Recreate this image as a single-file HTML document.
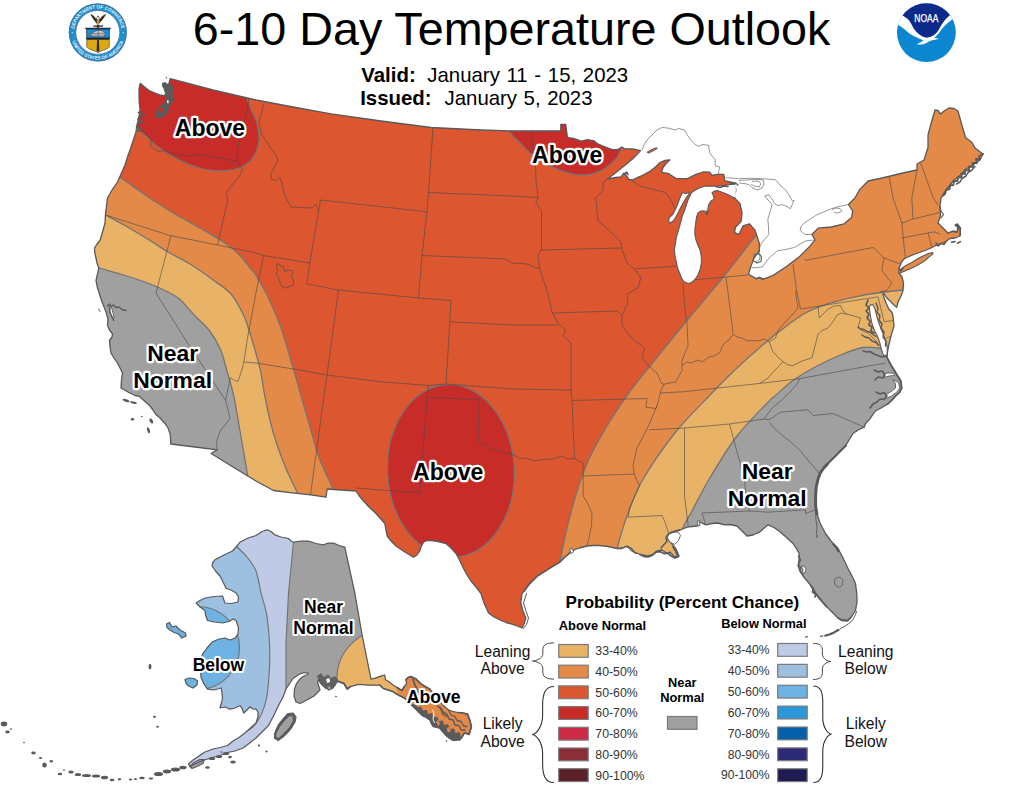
<!DOCTYPE html>
<html><head><meta charset="utf-8"><title>6-10 Day Temperature Outlook</title>
<style>html,body{margin:0;padding:0;background:#fff;}body{width:1024px;height:791px;overflow:hidden;font-family:"Liberation Sans",sans-serif;}svg{display:block}text{font-family:"Liberation Sans",sans-serif;}</style>
</head><body>
<svg width="1024" height="791" viewBox="0 0 1024 791">
<rect width="1024" height="791" fill="#fff"/>
<defs>
<clipPath id="cC"><path d="M140.2,83.3 L144.0,86.5 L149.0,90.5 L155.0,93.0 L160.3,95.0 L164.0,96.0 L166.5,93.0 L168.0,88.0 L169.0,83.0 L170.2,78.7 L213.0,90.0 L256.0,100.0 L293.0,107.0 L331.0,113.8 L381.0,121.0 L431.0,127.5 L481.0,130.0 L512.0,131.0 L560.8,131.0 L560.8,124.5 L565.8,124.5 L567.3,136.5 L568.0,137.7 L573.4,138.4 L581.2,141.2 L587.5,139.7 L593.8,140.8 L597.7,143.9 L603.1,146.2 L609.4,148.6 L612.5,149.7 L617.2,149.7 L621.9,147.0 L624.2,148.6 L632.8,149.0 L640.6,150.6 L632.8,158.8 L623.4,166.6 L612.5,175.2 L607.0,179.2 L615.6,177.5 L621.0,176.8 L624.0,173.0 L626.5,176.0 L629.0,179.5 L632.8,179.8 L640.6,176.2 L650.0,171.2 L656.0,166.5 L660.0,162.5 L665.0,160.3 L670.0,159.8 L666.5,163.0 L663.0,167.5 L661.5,172.4 L668.0,173.3 L676.5,178.7 L687.3,178.7 L695.9,174.4 L703.0,172.0 L709.8,172.2 L712.0,175.5 L717.4,174.4 L723.8,174.4 L724.9,180.8 L730.0,182.0 L734.5,183.0 L734.5,198.0 L739.9,203.4 L742.1,213.0 L741.0,221.6 L735.6,227.0 L734.5,232.4 L738.8,234.5 L743.1,225.9 L749.6,223.8 L755.0,230.2 L759.3,243.1 L759.3,251.7 L757.1,253.9 L754.0,258.0 L752.8,261.4 L750.7,266.8 L748.5,274.3 L756.0,278.6 L759.3,277.5 L763.5,279.2 L773.2,275.4 L786.1,266.8 L799.0,257.1 L809.7,246.4 L815.1,239.9 L811.9,234.5 L818.3,228.1 L831.2,227.0 L844.1,223.8 L851.6,217.4 L852.7,210.9 L848.4,204.5 L854.9,198.0 L859.8,189.4 L868.0,181.0 L880.0,178.5 L890.5,176.0 L905.0,172.5 L917.0,170.0 L917.0,164.0 L924.0,160.0 L928.0,147.5 L928.0,135.0 L931.5,122.0 L935.0,110.0 L938.0,110.5 L940.5,114.0 L944.0,111.0 L949.0,108.0 L954.0,108.5 L958.0,111.0 L961.0,122.0 L965.5,137.5 L972.0,142.5 L975.0,148.0 L983.0,154.0 L980.0,160.0 L973.0,165.0 L966.0,169.0 L960.5,175.0 L954.0,180.0 L948.0,187.5 L944.0,193.0 L941.0,198.0 L940.0,206.0 L940.5,215.5 L938.0,223.0 L943.0,228.0 L948.0,233.0 L953.0,231.0 L957.0,232.0 L958.0,227.0 L955.0,225.0 L957.0,224.0 L960.0,228.0 L960.0,236.0 L955.0,238.0 L950.0,238.5 L945.0,242.0 L940.0,244.0 L935.5,245.5 L931.0,248.0 L925.0,250.5 L915.0,254.0 L908.0,257.0 L904.0,259.0 L901.5,262.0 L900.5,265.0 L899.0,268.0 L899.0,273.0 L902.0,277.0 L903.5,283.0 L903.0,290.6 L901.0,296.0 L898.4,301.2 L896.6,307.4 L893.5,304.5 L890.0,301.0 L886.5,297.5 L883.5,293.0 L883.0,294.5 L884.5,299.0 L886.5,304.0 L888.5,308.5 L892.2,312.7 L893.1,317.2 L894.0,326.0 L891.3,334.9 L888.7,345.5 L887.0,355.0 L887.5,358.0 L891.3,365.0 L896.6,373.8 L901.0,380.9 L902.0,388.0 L900.0,392.0 L896.6,395.0 L892.0,400.0 L887.8,403.9 L881.0,408.0 L875.4,411.0 L869.2,419.8 L865.5,423.5 L864.2,427.2 L858.0,430.0 L853.0,433.5 L849.0,440.0 L845.5,446.0 L840.0,451.0 L835.5,456.0 L829.0,462.0 L823.0,468.5 L820.0,473.0 L818.0,478.5 L816.0,487.0 L815.5,496.0 L815.5,505.0 L816.8,513.5 L820.0,523.0 L825.5,533.5 L831.0,541.0 L838.0,548.5 L843.0,558.0 L848.0,568.5 L852.0,576.0 L855.5,583.5 L856.8,593.5 L857.0,602.0 L855.5,610.5 L852.0,616.0 L848.0,620.5 L843.0,620.0 L838.0,618.0 L831.0,611.0 L825.5,605.5 L819.0,598.0 L815.0,593.0 L813.0,588.5 L808.0,582.0 L803.0,576.0 L800.0,571.0 L798.0,566.0 L799.0,560.0 L799.2,553.5 L796.0,548.0 L793.0,543.5 L786.0,537.0 L780.5,532.2 L774.0,527.5 L768.0,524.8 L763.0,529.0 L759.5,532.2 L753.0,535.0 L747.0,536.0 L742.0,531.0 L737.0,526.0 L730.0,524.5 L724.5,524.8 L718.0,523.0 L712.0,523.5 L705.8,524.8 L700.0,522.0 L697.0,526.0 L692.0,526.5 L687.0,527.2 L680.0,530.0 L675.0,531.0 L671.0,534.0 L668.0,539.0 L672.0,544.0 L676.0,549.0 L679.0,556.0 L674.5,557.0 L670.0,552.0 L667.0,553.5 L662.0,550.0 L657.0,551.0 L652.0,555.0 L647.0,556.0 L640.0,554.5 L634.5,552.2 L631.0,548.0 L627.0,546.0 L622.0,548.0 L617.0,548.5 L608.0,546.5 L599.5,545.5 L593.0,545.5 L587.0,546.0 L579.0,548.0 L572.0,551.0 L566.0,556.0 L559.5,562.2 L548.0,569.0 L537.0,576.0 L529.0,584.0 L522.0,593.5 L520.8,603.0 L523.0,611.0 L525.8,618.0 L524.0,624.0 L522.0,628.0 L517.0,626.0 L512.0,624.2 L506.0,622.5 L501.0,620.5 L494.0,617.0 L488.5,613.0 L484.0,603.0 L481.0,593.5 L476.0,587.0 L471.0,581.0 L467.0,575.0 L463.5,568.5 L460.0,561.0 L456.0,553.5 L451.0,548.0 L446.0,543.5 L438.0,541.5 L431.0,540.5 L427.0,540.5 L423.5,542.2 L421.0,547.0 L419.8,551.0 L417.0,555.0 L413.5,557.2 L404.0,551.5 L396.0,546.0 L391.0,541.0 L387.2,536.0 L386.0,530.0 L384.8,523.5 L380.0,518.0 L376.0,513.5 L369.0,507.0 L363.5,501.0 L359.0,495.5 L356.0,491.0 L341.0,490.0 L327.2,489.0 L326.0,497.2 L310.5,494.8 L290.0,492.6 L273.5,490.5 L256.0,481.0 L233.0,467.0 L211.2,453.5 L214.0,451.5 L217.5,449.8 L195.0,447.0 L170.8,444.0 L170.5,438.0 L170.0,433.5 L168.0,428.0 L165.0,423.5 L160.0,418.0 L156.2,414.8 L153.0,410.0 L150.0,406.0 L144.0,400.5 L138.8,396.0 L135.0,395.5 L128.0,392.0 L121.0,388.0 L121.5,380.0 L122.5,373.0 L120.0,368.0 L117.5,363.0 L114.0,358.0 L111.0,353.0 L110.0,347.0 L109.5,340.5 L112.0,337.0 L112.5,334.0 L109.5,330.0 L107.5,325.5 L108.0,319.0 L106.0,312.0 L102.5,303.0 L101.0,299.0 L100.0,295.5 L97.5,288.0 L96.0,280.5 L97.5,274.0 L98.8,268.0 L97.0,263.0 L96.0,258.0 L94.8,253.0 L94.5,248.0 L97.0,244.0 L100.0,240.5 L102.5,232.0 L105.0,223.0 L105.5,214.0 L106.5,206.0 L107.5,198.0 L112.0,190.0 L117.5,182.0 L121.5,173.0 L125.0,165.0 L127.5,157.0 L130.0,150.0 L133.0,141.0 L136.0,132.0 L136.5,128.0 L137.0,125.0 L138.8,118.0 L140.0,110.0 L139.2,102.0 L139.0,95.0 L139.0,89.0Z"/></clipPath>
<clipPath id="cA"><path d="M212.0,566.0 L213.0,562.0 L215.0,559.8 L224.0,555.0 L232.5,551.0 L236.5,546.5 L240.0,542.2 L248.0,538.0 L256.0,535.5 L262.0,531.5 L267.2,529.8 L271.0,531.5 L274.8,534.8 L281.0,537.0 L288.5,538.5 L291.0,541.0 L293.5,542.2 L301.0,541.0 L308.5,541.0 L316.0,543.5 L323.5,544.8 L328.0,543.0 L333.5,543.0 L339.0,545.5 L344.8,547.2 L354.8,593.0 L362.2,635.5 L371.0,679.2 L375.3,678.1 L381.6,675.8 L384.7,675.0 L385.5,679.7 L389.4,682.0 L393.0,685.0 L397.2,687.5 L401.9,690.6 L404.0,687.0 L406.6,683.6 L405.8,679.7 L408.0,677.5 L411.2,676.6 L415.9,678.9 L420.6,683.6 L425.0,686.5 L430.0,689.1 L433.1,693.0 L438.0,699.0 L442.5,704.7 L448.8,710.2 L453.0,711.5 L458.1,712.5 L463.0,713.0 L467.5,714.1 L469.8,720.3 L471.4,726.6 L469.1,734.4 L464.4,732.8 L462.0,737.0 L459.7,739.8 L453.4,740.6 L449.0,738.0 L445.6,735.2 L442.0,731.0 L439.4,728.1 L433.1,726.6 L431.0,723.0 L430.0,720.3 L426.0,717.5 L422.2,715.6 L418.5,712.0 L415.9,709.4 L411.2,704.7 L405.0,698.4 L398.8,695.3 L392.5,691.4 L383.1,688.3 L380.0,685.2 L369.1,685.2 L358.1,684.4 L350.3,686.7 L347.2,689.0 L344.1,683.6 L337.8,681.2 L336.0,683.0 L333.0,688.0 L329.0,690.0 L325.0,687.0 L321.0,683.5 L318.5,680.0 L317.5,682.0 L320.0,690.0 L314.0,696.0 L307.0,700.0 L300.0,703.5 L296.0,702.0 L294.0,696.0 L294.5,689.0 L296.5,683.5 L299.5,679.5 L303.0,676.5 L307.5,674.5 L308.5,673.0 L303.0,672.8 L298.0,675.0 L293.5,678.0 L290.0,683.0 L286.0,689.0 L283.0,697.0 L278.5,705.5 L274.0,715.0 L268.5,725.5 L262.0,732.0 L256.0,738.0 L249.0,743.5 L243.0,748.0 L235.0,751.0 L227.5,752.5 L220.0,755.5 L212.5,757.5 L203.0,760.5 L196.0,763.5 L190.0,766.5 L188.5,764.0 L193.0,760.0 L199.0,756.0 L205.0,752.0 L213.0,749.0 L220.0,747.5 L227.5,745.5 L233.0,741.0 L239.0,737.5 L245.0,733.0 L251.0,727.5 L256.0,723.0 L258.0,717.0 L258.0,712.0 L256.0,709.2 L253.0,709.0 L250.0,706.8 L247.0,710.0 L243.8,713.0 L242.0,708.5 L240.0,705.5 L235.0,708.0 L230.0,709.2 L225.0,707.0 L220.0,708.0 L221.5,703.0 L222.5,698.0 L222.0,693.0 L221.2,688.0 L214.0,690.0 L207.5,689.2 L204.0,684.0 L201.2,678.0 L200.5,671.0 L200.0,665.0 L201.0,659.5 L202.5,654.2 L207.0,648.0 L212.5,641.8 L219.0,639.0 L225.0,638.0 L230.0,640.0 L235.0,638.0 L238.0,634.0 L238.5,628.0 L236.2,620.5 L233.0,619.0 L229.0,621.5 L222.5,623.0 L214.0,622.0 L207.5,620.5 L205.5,615.0 L205.0,610.5 L200.0,607.0 L196.2,603.0 L200.0,600.5 L205.0,598.0 L214.0,596.5 L222.5,596.0 L223.5,599.0 L225.0,603.0 L231.0,603.5 L238.0,602.0 L238.5,597.0 L236.0,593.0 L231.0,590.0 L226.2,588.5 L223.0,582.0 L220.0,576.0 L215.5,571.0Z M166.5,624.0 L169.5,622.5 L172.0,627.0 L176.0,626.0 L180.0,630.0 L185.5,633.0 L186.0,636.0 L182.0,638.0 L178.5,634.0 L174.0,632.5 L170.0,630.0 L167.0,627.5Z M185.0,679.5 L189.0,678.0 L194.0,678.5 L197.5,681.0 L197.0,685.0 L193.0,688.0 L188.5,686.0 L186.0,683.0Z M276.0,730.0 L279.0,724.0 L284.0,718.0 L288.0,713.5 L293.0,713.0 L296.0,717.0 L295.0,722.0 L292.0,727.0 L288.0,732.0 L283.0,737.0 L278.0,740.5 L274.5,738.0 L275.0,734.0Z M190.0,766.5 L194.0,762.5 L200.0,759.5 L204.0,759.5 L203.0,763.5 L197.0,766.5 L192.0,768.5Z"/></clipPath>
</defs>
<g clip-path="url(#cC)">
<rect x="80" y="60" width="920" height="580" fill="#DC562F"/>
<path d="M95.0,160.0 C99.2,162.9 113.2,172.5 120.0,177.2 C126.8,181.9 130.4,184.5 135.6,188.1 C140.8,191.7 144.7,194.7 151.2,199.0 C157.8,203.3 166.9,209.2 175.0,214.0 C183.1,218.8 191.7,223.2 200.0,228.0 C208.3,232.8 218.3,238.4 225.0,243.0 C231.7,247.6 235.8,251.3 240.0,255.5 C244.2,259.7 247.3,264.7 250.0,268.0 C252.7,271.3 252.9,270.5 256.0,275.5 C259.1,280.5 264.3,289.2 268.5,298.0 C272.7,306.8 277.2,317.6 281.0,328.0 C284.8,338.4 287.7,349.2 291.0,360.5 C294.3,371.8 297.9,384.6 301.0,395.5 C304.1,406.4 306.8,415.9 309.8,426.0 C312.7,436.1 314.8,445.8 318.5,456.0 C322.2,466.2 328.7,479.1 332.2,487.2 C335.8,495.4 338.7,502.0 340.0,505.0 L340.0,545.0 L40,545.0 L40,150.0 L95.0,150.0Z" fill="#E38A48"/>
<path d="M85.0,204.0 C88.4,205.8 98.8,211.4 105.5,215.0 C112.2,218.6 117.6,221.2 125.0,225.5 C132.4,229.8 142.9,236.1 150.0,240.5 C157.1,244.9 160.8,247.8 167.5,251.8 C174.2,255.7 182.5,259.4 190.0,264.0 C197.5,268.6 205.7,274.5 212.5,279.5 C219.3,284.5 225.8,288.1 231.0,294.0 C236.2,299.9 240.2,308.2 243.5,315.0 C246.8,321.8 248.4,328.6 250.5,335.0 C252.6,341.4 254.2,347.2 256.0,353.5 C257.8,359.8 259.5,365.9 261.0,373.0 C262.5,380.1 262.7,385.9 264.8,396.0 C266.8,406.1 270.0,421.4 273.5,433.5 C277.0,445.6 282.0,458.7 286.0,468.5 C290.0,478.3 294.4,486.2 297.2,492.2 C300.1,498.3 302.0,502.9 303.0,505.0 L303.0,545.0 L40,545.0 L40,194.0 L85.0,194.0Z" fill="#E8B367"/>
<path d="M70.0,259.0 C74.6,260.4 88.3,264.8 97.5,267.5 C106.7,270.2 116.2,272.8 125.0,275.5 C133.8,278.2 142.8,281.2 150.0,284.0 C157.2,286.8 163.0,289.4 168.0,292.0 C173.0,294.6 175.5,295.5 180.0,299.5 C184.5,303.5 190.2,310.9 195.0,316.0 C199.8,321.1 204.8,324.4 209.0,330.0 C213.2,335.6 217.4,342.3 220.5,349.5 C223.6,356.7 225.3,365.2 227.5,373.0 C229.7,380.8 231.7,386.3 233.8,396.0 C235.8,405.7 237.7,417.9 240.0,431.0 C242.3,444.1 245.7,464.1 247.5,474.8 C249.3,485.4 250.4,491.6 251.0,495.0 L251.0,535.0 L40,535.0 L40,249.0 L70.0,249.0Z" fill="#A0A0A0"/>
<path d="M790.0,190.0 C787.5,193.7 780.7,204.4 775.0,212.0 C769.3,219.6 764.2,224.9 755.8,235.5 C747.3,246.1 736.0,261.3 724.5,275.5 C713.0,289.7 699.5,305.3 687.0,320.5 C674.5,335.7 659.5,354.2 649.5,366.8 C639.5,379.2 634.1,385.6 627.0,395.5 C619.9,405.4 613.7,414.7 607.0,426.0 C600.3,437.3 592.8,449.8 587.0,463.5 C581.2,477.2 576.6,491.8 572.0,508.5 C567.4,525.2 562.3,549.1 559.5,563.5 C556.7,577.9 555.8,589.8 555.0,595.0 L555.0,700 L1010,700 L1010,60.0 L790.0,60.0Z" fill="#E38A48"/>
<path d="M935.0,288.0 C929.7,288.3 912.1,289.2 903.0,290.0 C893.9,290.8 888.4,291.4 880.5,292.5 C872.6,293.6 863.8,295.0 855.5,296.8 C847.2,298.5 838.8,300.3 830.5,303.0 C822.2,305.7 813.8,308.4 805.5,313.0 C797.2,317.6 786.8,325.9 780.5,330.5 C774.2,335.1 775.2,334.2 768.0,340.5 C760.8,346.8 746.8,358.8 737.0,368.0 C727.2,377.2 719.9,384.6 709.5,395.5 C699.1,406.4 685.8,419.2 674.5,433.5 C663.2,447.8 649.9,467.2 642.0,481.0 C634.1,494.8 631.2,504.8 627.0,516.0 C622.8,527.2 619.7,538.7 617.0,548.5 C614.3,558.3 612.0,570.6 611.0,575.0 L611.0,700 L1010,700 L1010,288.0 L935.0,288.0Z" fill="#E8B367"/>
<path d="M915.0,354.0 C910.8,353.3 896.2,351.0 890.0,350.0 C883.8,349.0 882.5,348.4 878.0,348.0 C873.5,347.6 868.8,346.5 863.0,347.5 C857.2,348.5 850.5,351.0 843.0,354.0 C835.5,357.0 826.3,361.1 818.0,365.5 C809.7,369.9 800.1,375.5 793.0,380.5 C785.9,385.5 779.7,391.9 775.5,395.5 C771.3,399.1 774.4,395.5 768.0,402.2 C761.6,409.0 746.8,423.3 737.0,436.0 C727.2,448.7 717.0,466.0 709.5,478.5 C702.0,491.0 696.4,502.9 692.0,511.0 C687.6,519.1 686.1,521.1 683.2,527.2 C680.4,533.4 676.4,544.5 675.0,548.0 L675.0,700 L1010,700 L1010,354.0 L915.0,354.0Z" fill="#A0A0A0"/>
<path d="M110.0,110.0 C113.0,111.7 123.2,116.8 128.0,120.0 C132.8,123.2 135.7,126.7 138.8,129.5 C141.8,132.3 143.7,134.0 146.6,136.6 C149.5,139.2 152.6,142.5 156.0,145.2 C159.4,147.9 162.5,150.3 166.9,153.0 C171.3,155.7 177.3,159.2 182.5,161.6 C187.7,164.0 192.9,166.0 198.1,167.5 C203.3,169.0 209.1,170.1 213.8,170.6 C218.4,171.1 222.1,171.0 226.2,170.6 C230.4,170.2 234.8,169.6 238.8,168.1 C242.7,166.6 246.7,164.5 249.7,161.6 C252.7,158.7 255.1,154.5 256.7,150.6 C258.3,146.7 259.1,142.8 259.1,138.1 C259.1,133.4 258.0,127.2 256.7,122.5 C255.4,117.8 252.9,113.9 251.2,110.0 C249.6,106.1 248.4,103.2 247.0,99.0 C245.6,94.8 243.7,87.3 243.0,85.0 L243,60 L100,60Z" fill="#C82C28"/>
<path d="M503.0,122.0 C504.1,123.7 506.5,128.7 509.4,132.2 C512.3,135.7 516.7,139.5 520.3,143.1 C523.9,146.7 527.8,151.0 531.2,154.0 C534.7,157.0 537.6,158.9 541.0,161.0 C544.4,163.1 548.0,164.9 551.6,166.6 C555.2,168.3 558.6,169.9 562.5,171.2 C566.4,172.6 570.8,173.8 575.0,174.4 C579.2,175.0 583.3,175.2 587.5,174.7 C591.7,174.2 596.4,172.9 600.0,171.2 C603.6,169.6 606.5,167.3 609.4,165.0 C612.3,162.7 615.1,160.2 617.2,157.2 C619.3,154.2 620.6,150.5 621.9,147.0 C623.2,143.5 624.5,137.8 625.0,136.0 L625,100 L503,100Z" fill="#C82C28"/>
<ellipse cx="450.9" cy="470.7" rx="63.3" ry="86.3" transform="rotate(-2.8 450.9 470.7)" fill="#C82C28"/>
<path d="M95.0,160.0 C99.2,162.9 113.2,172.5 120.0,177.2 C126.8,181.9 130.4,184.5 135.6,188.1 C140.8,191.7 144.7,194.7 151.2,199.0 C157.8,203.3 166.9,209.2 175.0,214.0 C183.1,218.8 191.7,223.2 200.0,228.0 C208.3,232.8 218.3,238.4 225.0,243.0 C231.7,247.6 235.8,251.3 240.0,255.5 C244.2,259.7 247.3,264.7 250.0,268.0 C252.7,271.3 252.9,270.5 256.0,275.5 C259.1,280.5 264.3,289.2 268.5,298.0 C272.7,306.8 277.2,317.6 281.0,328.0 C284.8,338.4 287.7,349.2 291.0,360.5 C294.3,371.8 297.9,384.6 301.0,395.5 C304.1,406.4 306.8,415.9 309.8,426.0 C312.7,436.1 314.8,445.8 318.5,456.0 C322.2,466.2 328.7,479.1 332.2,487.2 C335.8,495.4 338.7,502.0 340.0,505.0" fill="none" stroke="#747474" stroke-width="1.3"/>
<path d="M85.0,204.0 C88.4,205.8 98.8,211.4 105.5,215.0 C112.2,218.6 117.6,221.2 125.0,225.5 C132.4,229.8 142.9,236.1 150.0,240.5 C157.1,244.9 160.8,247.8 167.5,251.8 C174.2,255.7 182.5,259.4 190.0,264.0 C197.5,268.6 205.7,274.5 212.5,279.5 C219.3,284.5 225.8,288.1 231.0,294.0 C236.2,299.9 240.2,308.2 243.5,315.0 C246.8,321.8 248.4,328.6 250.5,335.0 C252.6,341.4 254.2,347.2 256.0,353.5 C257.8,359.8 259.5,365.9 261.0,373.0 C262.5,380.1 262.7,385.9 264.8,396.0 C266.8,406.1 270.0,421.4 273.5,433.5 C277.0,445.6 282.0,458.7 286.0,468.5 C290.0,478.3 294.4,486.2 297.2,492.2 C300.1,498.3 302.0,502.9 303.0,505.0" fill="none" stroke="#747474" stroke-width="1.3"/>
<path d="M70.0,259.0 C74.6,260.4 88.3,264.8 97.5,267.5 C106.7,270.2 116.2,272.8 125.0,275.5 C133.8,278.2 142.8,281.2 150.0,284.0 C157.2,286.8 163.0,289.4 168.0,292.0 C173.0,294.6 175.5,295.5 180.0,299.5 C184.5,303.5 190.2,310.9 195.0,316.0 C199.8,321.1 204.8,324.4 209.0,330.0 C213.2,335.6 217.4,342.3 220.5,349.5 C223.6,356.7 225.3,365.2 227.5,373.0 C229.7,380.8 231.7,386.3 233.8,396.0 C235.8,405.7 237.7,417.9 240.0,431.0 C242.3,444.1 245.7,464.1 247.5,474.8 C249.3,485.4 250.4,491.6 251.0,495.0" fill="none" stroke="#747474" stroke-width="1.3"/>
<path d="M790.0,190.0 C787.5,193.7 780.7,204.4 775.0,212.0 C769.3,219.6 764.2,224.9 755.8,235.5 C747.3,246.1 736.0,261.3 724.5,275.5 C713.0,289.7 699.5,305.3 687.0,320.5 C674.5,335.7 659.5,354.2 649.5,366.8 C639.5,379.2 634.1,385.6 627.0,395.5 C619.9,405.4 613.7,414.7 607.0,426.0 C600.3,437.3 592.8,449.8 587.0,463.5 C581.2,477.2 576.6,491.8 572.0,508.5 C567.4,525.2 562.3,549.1 559.5,563.5 C556.7,577.9 555.8,589.8 555.0,595.0" fill="none" stroke="#747474" stroke-width="1.3"/>
<path d="M935.0,288.0 C929.7,288.3 912.1,289.2 903.0,290.0 C893.9,290.8 888.4,291.4 880.5,292.5 C872.6,293.6 863.8,295.0 855.5,296.8 C847.2,298.5 838.8,300.3 830.5,303.0 C822.2,305.7 813.8,308.4 805.5,313.0 C797.2,317.6 786.8,325.9 780.5,330.5 C774.2,335.1 775.2,334.2 768.0,340.5 C760.8,346.8 746.8,358.8 737.0,368.0 C727.2,377.2 719.9,384.6 709.5,395.5 C699.1,406.4 685.8,419.2 674.5,433.5 C663.2,447.8 649.9,467.2 642.0,481.0 C634.1,494.8 631.2,504.8 627.0,516.0 C622.8,527.2 619.7,538.7 617.0,548.5 C614.3,558.3 612.0,570.6 611.0,575.0" fill="none" stroke="#747474" stroke-width="1.3"/>
<path d="M915.0,354.0 C910.8,353.3 896.2,351.0 890.0,350.0 C883.8,349.0 882.5,348.4 878.0,348.0 C873.5,347.6 868.8,346.5 863.0,347.5 C857.2,348.5 850.5,351.0 843.0,354.0 C835.5,357.0 826.3,361.1 818.0,365.5 C809.7,369.9 800.1,375.5 793.0,380.5 C785.9,385.5 779.7,391.9 775.5,395.5 C771.3,399.1 774.4,395.5 768.0,402.2 C761.6,409.0 746.8,423.3 737.0,436.0 C727.2,448.7 717.0,466.0 709.5,478.5 C702.0,491.0 696.4,502.9 692.0,511.0 C687.6,519.1 686.1,521.1 683.2,527.2 C680.4,533.4 676.4,544.5 675.0,548.0" fill="none" stroke="#747474" stroke-width="1.3"/>
<path d="M110.0,110.0 C113.0,111.7 123.2,116.8 128.0,120.0 C132.8,123.2 135.7,126.7 138.8,129.5 C141.8,132.3 143.7,134.0 146.6,136.6 C149.5,139.2 152.6,142.5 156.0,145.2 C159.4,147.9 162.5,150.3 166.9,153.0 C171.3,155.7 177.3,159.2 182.5,161.6 C187.7,164.0 192.9,166.0 198.1,167.5 C203.3,169.0 209.1,170.1 213.8,170.6 C218.4,171.1 222.1,171.0 226.2,170.6 C230.4,170.2 234.8,169.6 238.8,168.1 C242.7,166.6 246.7,164.5 249.7,161.6 C252.7,158.7 255.1,154.5 256.7,150.6 C258.3,146.7 259.1,142.8 259.1,138.1 C259.1,133.4 258.0,127.2 256.7,122.5 C255.4,117.8 252.9,113.9 251.2,110.0 C249.6,106.1 248.4,103.2 247.0,99.0 C245.6,94.8 243.7,87.3 243.0,85.0" fill="none" stroke="#747474" stroke-width="1.3"/>
<path d="M503.0,122.0 C504.1,123.7 506.5,128.7 509.4,132.2 C512.3,135.7 516.7,139.5 520.3,143.1 C523.9,146.7 527.8,151.0 531.2,154.0 C534.7,157.0 537.6,158.9 541.0,161.0 C544.4,163.1 548.0,164.9 551.6,166.6 C555.2,168.3 558.6,169.9 562.5,171.2 C566.4,172.6 570.8,173.8 575.0,174.4 C579.2,175.0 583.3,175.2 587.5,174.7 C591.7,174.2 596.4,172.9 600.0,171.2 C603.6,169.6 606.5,167.3 609.4,165.0 C612.3,162.7 615.1,160.2 617.2,157.2 C619.3,154.2 620.6,150.5 621.9,147.0 C623.2,143.5 624.5,137.8 625.0,136.0" fill="none" stroke="#747474" stroke-width="1.3"/>
<ellipse cx="450.9" cy="470.7" rx="63.3" ry="86.3" transform="rotate(-2.8 450.9 470.7)" fill="none" stroke="#747474" stroke-width="1.3"/>
<g fill="none" stroke="#4a4a4a" stroke-opacity="0.72" stroke-width="0.85" stroke-linejoin="round">
<path d="M137.0,130.0 L143.4,131.9 L151.2,139.7 L150.5,146.7 L158.3,151.4 L165.3,150.6 L174.7,154.5 L187.2,156.1 L198.1,154.5 L213.8,156.9 L237.2,161.6"/>
<path d="M249.0,99.0 L247.3,110.0 L243.4,125.6 L238.8,141.2 L237.2,153.8 L237.2,161.6 L240.3,167.0 L242.7,169.4 L238.8,177.2 L229.4,188.1 L226.2,194.4 L227.8,200.0 L217.5,245.0"/>
<path d="M263.5,104.0 L262.2,110.0 L259.0,122.5 L261.4,133.4 L265.3,139.7 L270.0,147.5 L276.2,155.3 L277.8,160.0 L274.7,166.2 L270.8,174.0 L271.6,178.8 L276.2,181.0 L280.0,177.5 L282.0,184.0 L285.0,196.0 L286.0,198.0 L291.0,207.0 L300.0,207.5 L312.0,208.0 L316.0,204.0 L318.5,210.5"/>
<path d="M320.5,200.0 L309.8,263.0 L307.0,284.0"/>
<path d="M320.5,200.0 L427.0,211.8"/>
<path d="M433.0,128.0 L428.5,192.5 L427.0,211.8 L422.0,255.5 L418.5,298.0"/>
<path d="M428.5,192.5 L512.0,196.0 L538.0,197.5"/>
<path d="M531.0,132.5 L535.8,170.0 L536.0,180.0 L538.0,197.5 L535.8,203.0 L541.5,210.5 L541.5,250.0 L538.0,255.5 L539.5,268.0 L547.0,290.5 L552.0,311.8 L558.0,323.0 L565.8,330.5 L563.0,335.5 L571.0,343.0 L571.0,390.0 L572.0,400.5 L574.5,458.5"/>
<path d="M541.5,250.0 L620.8,248.0"/>
<path d="M422.0,255.5 L506.0,259.0 L512.0,263.0 L527.0,264.0 L539.5,269.0"/>
<path d="M307.0,284.0 L338.5,290.0 L418.5,298.0 L451.0,300.5"/>
<path d="M217.5,245.0 L256.0,253.0 L263.5,255.5 L309.8,263.0"/>
<path d="M105.5,215.0 L170.0,235.5 L217.5,245.0"/>
<path d="M171.0,235.5 L156.0,293.0 L187.5,343.0 L225.6,400.3"/>
<path d="M263.5,255.5 L256.0,293.0 L247.5,338.0 L243.8,362.0"/>
<path d="M243.8,362.0 L243.0,366.0 L240.5,374.0 L238.0,381.5 L234.0,380.0 L230.3,377.7 L228.0,389.0 L225.6,400.3 L228.0,410.0 L230.0,418.5 L225.0,425.0 L220.0,431.0 L218.0,437.0 L216.2,443.5 L217.5,449.8"/>
<path d="M243.8,362.0 L256.0,363.0 L293.5,369.0 L327.0,375.0"/>
<path d="M338.5,290.0 L327.0,375.0"/>
<path d="M327.0,375.0 L381.0,381.8 L428.5,385.5 L446.0,384.0"/>
<path d="M327.0,375.0 L324.0,396.0 L310.5,494.8"/>
<path d="M451.0,300.5 L449.8,321.8 L446.0,384.0"/>
<path d="M449.8,321.8 L512.0,325.0 L558.0,325.0"/>
<path d="M446.0,384.0 L512.0,389.0 L571.0,390.0"/>
<path d="M428.5,385.5 L427.2,397.2 L419.8,493.0"/>
<path d="M356.0,488.0 L419.8,493.0"/>
<path d="M427.2,397.2 L479.2,399.8 L478.0,441.0 L481.0,444.0 L486.0,444.8 L491.0,449.0 L496.0,449.8 L504.0,453.0 L512.0,454.0 L519.0,458.0 L527.0,458.5 L534.0,461.0 L542.0,459.8 L552.0,459.0 L562.0,456.0 L568.0,459.0 L574.5,458.5 L583.2,463.5"/>
<path d="M583.2,463.5 L583.2,496.0 L588.0,504.0 L592.0,513.5 L591.5,525.0 L589.5,536.0 L587.0,546.0"/>
<path d="M583.2,476.0 L634.5,474.0"/>
<path d="M572.0,400.5 L647.0,398.5 L645.8,407.2 L655.8,408.5 L657.0,406.0"/>
<path d="M664.5,384.0 L661.0,390.0 L659.5,396.0 L657.0,406.0 L653.0,415.0 L649.5,423.5 L646.0,431.0 L642.0,438.5 L637.0,448.0 L634.5,458.5 L633.0,466.0 L634.5,474.8 L639.5,486.0 L634.0,498.0 L629.5,508.5 L628.2,517.2"/>
<path d="M628.2,517.2 L662.0,515.5 L665.0,522.0 L667.0,528.5 L669.5,536.0"/>
<path d="M649.5,429.8 L684.5,428.0 L729.5,424.0 L764.0,419.0"/>
<path d="M684.5,428.0 L684.5,496.0 L688.2,526.0"/>
<path d="M729.5,424.0 L739.5,461.0 L744.5,481.0 L746.0,495.0 L749.5,511.0"/>
<path d="M705.8,524.8 L702.0,513.0 L749.5,511.0"/>
<path d="M749.5,511.0 L768.0,512.2 L805.5,509.8 L805.5,513.5 L815.5,509.8"/>
<path d="M769.2,422.2 L776.0,430.0 L783.0,436.0 L792.0,443.0 L800.5,451.0 L807.0,459.0 L813.0,466.0 L819.2,473.5"/>
<path d="M864.2,427.2 L833.0,413.5 L813.0,415.5 L808.0,409.8 L780.5,412.2 L769.2,419.8 L764.0,419.0"/>
<path d="M660.0,393.0 L683.0,391.8 L768.0,382.5 L800.0,378.5 L885.5,363.0"/>
<path d="M764.0,419.0 L772.0,408.0 L782.0,400.0 L790.0,392.0 L797.0,384.0 L800.0,378.5"/>
<path d="M606.5,179.5 L603.0,182.5 L603.0,190.0 L595.8,198.0 L598.0,220.5 L612.0,233.0 L620.8,241.8 L622.0,249.0 L627.0,263.0 L634.5,269.0 L640.8,278.0 L638.0,288.0 L627.0,294.0 L628.0,303.0 L622.0,315.5"/>
<path d="M552.0,313.0 L617.0,311.0 L622.0,315.5"/>
<path d="M622.0,315.5 L622.0,325.5 L628.0,334.0 L634.5,340.5 L644.5,348.0 L642.0,358.0 L649.5,366.8 L657.0,373.0 L662.0,384.0 L664.5,384.0"/>
<path d="M634.5,268.8 L676.5,266.3"/>
<path d="M632.0,181.0 L640.0,186.2 L665.8,192.6 L672.2,202.3 L674.4,208.8"/>
<path d="M683.0,283.5 L685.0,309.7 L687.0,323.0 L688.0,345.5 L682.0,360.5 L682.0,370.5 L675.8,381.8 L664.5,384.0"/>
<path d="M694.8,279.7 L726.0,277.0 L747.4,275.0"/>
<path d="M726.0,277.0 L730.2,309.7 L733.0,333.0"/>
<path d="M682.0,365.5 L687.0,362.0 L692.0,363.0 L697.0,360.0 L702.0,361.8 L709.5,356.8 L714.0,356.0 L719.5,353.0 L722.0,347.0 L724.5,343.0 L729.0,340.0 L733.0,334.0 L737.0,337.0 L742.0,338.0 L747.0,341.0 L752.0,340.5 L758.0,341.0 L764.5,339.0 L769.2,341.8 L775.5,338.0 L778.0,330.5 L785.5,321.8 L792.0,315.0 L798.0,308.0 L795.5,291.8 L796.5,290.0"/>
<path d="M793.0,264.0 L796.5,290.0 L800.5,309.0"/>
<path d="M800.5,309.0 L878.0,296.8"/>
<path d="M804.0,259.0 L805.4,260.3 L873.0,247.5"/>
<path d="M873.0,247.5 L884.0,258.0 L881.8,270.5 L891.8,283.0 L886.8,290.5 L880.0,292.0"/>
<path d="M884.0,258.0 L900.5,264.0"/>
<path d="M889.0,176.0 L893.0,198.0 L901.8,223.0 L905.5,260.5"/>
<path d="M917.0,170.0 L911.8,198.0 L913.0,219.0"/>
<path d="M920.5,162.5 L933.0,197.5 L938.0,205.0"/>
<path d="M901.8,223.0 L913.0,219.0 L934.0,214.0 L940.0,212.0"/>
<path d="M901.8,238.0 L934.0,231.8 L940.0,234.0"/>
<path d="M928.0,233.0 L931.8,246.8"/>
<path d="M878.0,296.8 L884.2,321.8 L893.0,320.5"/>
<path d="M886.0,338.0 L893.0,336.0"/>
<path d="M818.0,306.8 L819.2,318.0 L824.0,313.0 L828.0,309.2 L834.0,306.0 L840.5,305.5 L843.0,311.0 L846.8,314.2 L854.0,316.0 L860.5,318.0 L858.0,328.0 L863.0,331.0 L868.0,333.0 L873.0,338.0 L878.0,343.0"/>
<path d="M846.8,314.2 L841.0,313.0 L836.8,315.5 L832.0,323.0 L828.0,328.0 L823.0,330.0 L818.0,334.2 L815.0,346.0 L811.8,358.0 L802.0,361.0 L793.0,365.5 L788.0,365.0 L783.0,361.8"/>
<path d="M769.2,341.8 L773.0,351.8 L778.0,357.0 L783.0,361.8"/>
<path d="M783.0,361.8 L776.0,369.0 L768.0,378.0 L760.0,383.0"/>
<path d="M276.8,263.5 L280.0,264.8 L280.6,266.7 L283.2,266.1 L283.8,269.2 L285.7,272.4 L287.0,269.9 L291.4,270.5 L292.7,273.7 L291.4,276.8 L293.3,280.0 L293.9,284.4 L290.1,286.3 L285.1,288.2 L281.3,285.7 L279.4,280.6 L278.1,276.8 L276.2,274.3 L277.5,270.5 L276.8,266.7Z" stroke-width="0.9"/>
<path d="M836.0,578.0 L840.0,577.0 L843.0,580.0 L842.5,585.0 L839.0,587.5 L835.0,585.0 L834.3,581.0Z" stroke-width="0.9"/>
</g>
</g>
<path d="M704.5,186.2 L698.0,188.5 L691.6,192.6 L688.0,200.0 L685.1,208.8 L682.0,217.0 L679.7,225.9 L676.5,236.7 L674.4,249.6 L675.0,256.0 L676.5,262.5 L677.5,268.0 L679.7,273.2 L681.5,278.0 L684.0,281.8 L688.3,283.5 L691.5,282.5 L694.8,279.7 L698.0,275.0 L700.2,268.9 L701.5,262.0 L701.2,256.0 L700.0,250.0 L698.0,245.3 L696.0,240.0 L694.8,234.5 L695.0,228.0 L695.9,221.6 L696.5,217.0 L698.0,213.0 L701.0,211.0 L704.5,210.9 L706.0,213.5 L707.5,213.0 L708.0,208.0 L708.8,204.5 L711.0,201.0 L714.1,199.1 L713.5,196.0 L712.0,192.6 L714.5,191.0 L717.4,190.5 L726.0,193.7 L734.5,198.0 L736.0,190.0 L734.5,184.0 L726.0,185.1 L716.3,186.2 L710.0,186.0Z" fill="#fff" stroke="#5a5a5a" stroke-width="1.1" stroke-linejoin="round"/>
<path d="M682.5,192.6 L679.5,199.0 L677.5,204.5 L675.3,209.5 L673.0,214.1 L670.5,216.5 L669.0,218.4 L668.7,221.3 L670.2,223.0 L673.0,221.2 L675.3,218.0 L678.3,212.5 L681.2,206.6 L684.0,201.5 L686.6,197.0 L689.0,194.0 L689.0,192.0 L686.0,193.7Z" fill="#fff" stroke="#5a5a5a" stroke-width="1.1" stroke-linejoin="round"/>
<path d="M869.3,306.0 L869.8,312.0 L870.8,318.0 L872.3,325.0 L874.8,331.0 L877.8,337.0 L879.8,343.0 L881.3,349.0 L883.5,355.5 L887.4,355.0 L887.2,347.0 L885.7,341.0 L883.2,334.0 L880.7,328.0 L878.2,321.0 L876.2,314.0 L874.7,308.0 L872.3,304.3Z" fill="#fff" stroke="#5a5a5a" stroke-width="1.1" stroke-linejoin="round"/>
<path d="M754.5,254.3 L759.5,253.8 L761.5,257.0 L761.0,261.5 L757.0,263.0 L753.2,260.5Z" fill="#fff" stroke="#5a5a5a" stroke-width="1.1" stroke-linejoin="round"/>
<path d="M900.0,273.0 L905.0,271.0 L910.7,268.4 L916.0,265.9 L921.3,263.1 L925.0,260.5 L928.9,257.1 L932.7,254.0 L933.0,252.5 L929.0,253.3 L925.8,254.8 L922.0,256.5 L918.2,258.6 L914.0,261.0 L910.7,263.1 L904.6,266.2 L900.8,269.2Z" fill="#E38A48" stroke="#5a5a5a" stroke-width="1.1" stroke-linejoin="round"/>
<path d="M647,152.3 L651,149.8 L656.5,147.6 L657.3,148.6 L652.5,151.3 L648,153.3Z" fill="#DC562F" stroke="#5a5a5a" stroke-width="0.9"/>
<path d="M140.2,83.3 L144.0,86.5 L149.0,90.5 L155.0,93.0 L160.3,95.0 L164.0,96.0 L166.5,93.0 L168.0,88.0 L169.0,83.0 L170.2,78.7 L213.0,90.0 L256.0,100.0 L293.0,107.0 L331.0,113.8 L381.0,121.0 L431.0,127.5 L481.0,130.0 L512.0,131.0 L560.8,131.0 L560.8,124.5 L565.8,124.5 L567.3,136.5 L568.0,137.7 L573.4,138.4 L581.2,141.2 L587.5,139.7 L593.8,140.8 L597.7,143.9 L603.1,146.2 L609.4,148.6 L612.5,149.7 L617.2,149.7 L621.9,147.0 L624.2,148.6 L632.8,149.0 L640.6,150.6 L632.8,158.8 L623.4,166.6 L612.5,175.2 L607.0,179.2 L615.6,177.5 L621.0,176.8 L624.0,173.0 L626.5,176.0 L629.0,179.5 L632.8,179.8 L640.6,176.2 L650.0,171.2 L656.0,166.5 L660.0,162.5 L665.0,160.3 L670.0,159.8 L666.5,163.0 L663.0,167.5 L661.5,172.4 L668.0,173.3 L676.5,178.7 L687.3,178.7 L695.9,174.4 L703.0,172.0 L709.8,172.2 L712.0,175.5 L717.4,174.4 L723.8,174.4 L724.9,180.8 L730.0,182.0 L734.5,183.0 L734.5,198.0 L739.9,203.4 L742.1,213.0 L741.0,221.6 L735.6,227.0 L734.5,232.4 L738.8,234.5 L743.1,225.9 L749.6,223.8 L755.0,230.2 L759.3,243.1 L759.3,251.7 L757.1,253.9 L754.0,258.0 L752.8,261.4 L750.7,266.8 L748.5,274.3 L756.0,278.6 L759.3,277.5 L763.5,279.2 L773.2,275.4 L786.1,266.8 L799.0,257.1 L809.7,246.4 L815.1,239.9 L811.9,234.5 L818.3,228.1 L831.2,227.0 L844.1,223.8 L851.6,217.4 L852.7,210.9 L848.4,204.5 L854.9,198.0 L859.8,189.4 L868.0,181.0 L880.0,178.5 L890.5,176.0 L905.0,172.5 L917.0,170.0 L917.0,164.0 L924.0,160.0 L928.0,147.5 L928.0,135.0 L931.5,122.0 L935.0,110.0 L938.0,110.5 L940.5,114.0 L944.0,111.0 L949.0,108.0 L954.0,108.5 L958.0,111.0 L961.0,122.0 L965.5,137.5 L972.0,142.5 L975.0,148.0 L983.0,154.0 L980.0,160.0 L973.0,165.0 L966.0,169.0 L960.5,175.0 L954.0,180.0 L948.0,187.5 L944.0,193.0 L941.0,198.0 L940.0,206.0 L940.5,215.5 L938.0,223.0 L943.0,228.0 L948.0,233.0 L953.0,231.0 L957.0,232.0 L958.0,227.0 L955.0,225.0 L957.0,224.0 L960.0,228.0 L960.0,236.0 L955.0,238.0 L950.0,238.5 L945.0,242.0 L940.0,244.0 L935.5,245.5 L931.0,248.0 L925.0,250.5 L915.0,254.0 L908.0,257.0 L904.0,259.0 L901.5,262.0 L900.5,265.0 L899.0,268.0 L899.0,273.0 L902.0,277.0 L903.5,283.0 L903.0,290.6 L901.0,296.0 L898.4,301.2 L896.6,307.4 L893.5,304.5 L890.0,301.0 L886.5,297.5 L883.5,293.0 L883.0,294.5 L884.5,299.0 L886.5,304.0 L888.5,308.5 L892.2,312.7 L893.1,317.2 L894.0,326.0 L891.3,334.9 L888.7,345.5 L887.0,355.0 L887.5,358.0 L891.3,365.0 L896.6,373.8 L901.0,380.9 L902.0,388.0 L900.0,392.0 L896.6,395.0 L892.0,400.0 L887.8,403.9 L881.0,408.0 L875.4,411.0 L869.2,419.8 L865.5,423.5 L864.2,427.2 L858.0,430.0 L853.0,433.5 L849.0,440.0 L845.5,446.0 L840.0,451.0 L835.5,456.0 L829.0,462.0 L823.0,468.5 L820.0,473.0 L818.0,478.5 L816.0,487.0 L815.5,496.0 L815.5,505.0 L816.8,513.5 L820.0,523.0 L825.5,533.5 L831.0,541.0 L838.0,548.5 L843.0,558.0 L848.0,568.5 L852.0,576.0 L855.5,583.5 L856.8,593.5 L857.0,602.0 L855.5,610.5 L852.0,616.0 L848.0,620.5 L843.0,620.0 L838.0,618.0 L831.0,611.0 L825.5,605.5 L819.0,598.0 L815.0,593.0 L813.0,588.5 L808.0,582.0 L803.0,576.0 L800.0,571.0 L798.0,566.0 L799.0,560.0 L799.2,553.5 L796.0,548.0 L793.0,543.5 L786.0,537.0 L780.5,532.2 L774.0,527.5 L768.0,524.8 L763.0,529.0 L759.5,532.2 L753.0,535.0 L747.0,536.0 L742.0,531.0 L737.0,526.0 L730.0,524.5 L724.5,524.8 L718.0,523.0 L712.0,523.5 L705.8,524.8 L700.0,522.0 L697.0,526.0 L692.0,526.5 L687.0,527.2 L680.0,530.0 L675.0,531.0 L671.0,534.0 L668.0,539.0 L672.0,544.0 L676.0,549.0 L679.0,556.0 L674.5,557.0 L670.0,552.0 L667.0,553.5 L662.0,550.0 L657.0,551.0 L652.0,555.0 L647.0,556.0 L640.0,554.5 L634.5,552.2 L631.0,548.0 L627.0,546.0 L622.0,548.0 L617.0,548.5 L608.0,546.5 L599.5,545.5 L593.0,545.5 L587.0,546.0 L579.0,548.0 L572.0,551.0 L566.0,556.0 L559.5,562.2 L548.0,569.0 L537.0,576.0 L529.0,584.0 L522.0,593.5 L520.8,603.0 L523.0,611.0 L525.8,618.0 L524.0,624.0 L522.0,628.0 L517.0,626.0 L512.0,624.2 L506.0,622.5 L501.0,620.5 L494.0,617.0 L488.5,613.0 L484.0,603.0 L481.0,593.5 L476.0,587.0 L471.0,581.0 L467.0,575.0 L463.5,568.5 L460.0,561.0 L456.0,553.5 L451.0,548.0 L446.0,543.5 L438.0,541.5 L431.0,540.5 L427.0,540.5 L423.5,542.2 L421.0,547.0 L419.8,551.0 L417.0,555.0 L413.5,557.2 L404.0,551.5 L396.0,546.0 L391.0,541.0 L387.2,536.0 L386.0,530.0 L384.8,523.5 L380.0,518.0 L376.0,513.5 L369.0,507.0 L363.5,501.0 L359.0,495.5 L356.0,491.0 L341.0,490.0 L327.2,489.0 L326.0,497.2 L310.5,494.8 L290.0,492.6 L273.5,490.5 L256.0,481.0 L233.0,467.0 L211.2,453.5 L214.0,451.5 L217.5,449.8 L195.0,447.0 L170.8,444.0 L170.5,438.0 L170.0,433.5 L168.0,428.0 L165.0,423.5 L160.0,418.0 L156.2,414.8 L153.0,410.0 L150.0,406.0 L144.0,400.5 L138.8,396.0 L135.0,395.5 L128.0,392.0 L121.0,388.0 L121.5,380.0 L122.5,373.0 L120.0,368.0 L117.5,363.0 L114.0,358.0 L111.0,353.0 L110.0,347.0 L109.5,340.5 L112.0,337.0 L112.5,334.0 L109.5,330.0 L107.5,325.5 L108.0,319.0 L106.0,312.0 L102.5,303.0 L101.0,299.0 L100.0,295.5 L97.5,288.0 L96.0,280.5 L97.5,274.0 L98.8,268.0 L97.0,263.0 L96.0,258.0 L94.8,253.0 L94.5,248.0 L97.0,244.0 L100.0,240.5 L102.5,232.0 L105.0,223.0 L105.5,214.0 L106.5,206.0 L107.5,198.0 L112.0,190.0 L117.5,182.0 L121.5,173.0 L125.0,165.0 L127.5,157.0 L130.0,150.0 L133.0,141.0 L136.0,132.0 L136.5,128.0 L137.0,125.0 L138.8,118.0 L140.0,110.0 L139.2,102.0 L139.0,95.0 L139.0,89.0Z" fill="none" stroke="#5a5a5a" stroke-width="1.3" stroke-linejoin="round"/>
<g fill="none" stroke="#6a6a6a" stroke-width="0.7" stroke-linejoin="round">
<path d="M642.0,150.0 L644.0,145.0 L647.0,140.0 L653.0,134.0 L657.0,130.0 L662.0,127.5 L668.0,128.0 L675.0,130.0 L679.0,128.5 L684.5,130.0 L688.0,136.0 L690.5,140.0 L694.0,143.5 L698.0,146.4 L703.0,144.5 L708.8,145.4 L709.0,149.0 L709.8,152.9 L712.0,156.0 L715.2,159.3 L715.2,165.8 L719.5,166.9 L718.4,174.4"/>
<path d="M726.0,177.6 L738.8,178.7 L750.0,178.3 L762.5,178.7 L775.4,179.7 L780.0,185.0 L786.1,190.5 L789.0,195.0 L792.6,201.2 L794.0,200.5 L790.4,208.8 L786.0,206.0 L781.8,204.5 L778.0,205.5 L775.4,204.5 L772.0,199.0 L768.9,194.8 L764.6,195.9 L768.0,200.0 L772.1,204.5 L770.0,212.0 L767.8,219.5 L768.5,227.0 L768.9,234.5 L765.0,239.0 L761.4,243.1 L759.3,249.0 L757.5,253.5"/>
<path d="M739.0,180.5 L748.0,179.8 L758.0,179.3 L763.5,180.0 L764.0,184.0 L762.0,188.0 L757.0,190.0 L752.0,187.5 L749.0,184.5 L744.0,183.5 L739.0,183.0"/>
<path d="M752.0,181.5 L758.0,181.0 L761.0,183.5 L759.0,187.0 L754.0,186.0 L751.0,184.0"/>
<path d="M814.0,240.0 L805.4,241.0 L800.0,244.0 L794.7,247.4 L786.0,249.5 L777.5,250.7 L773.0,254.5 L768.9,258.2 L765.5,263.0 L762.5,266.8 L757.0,267.5 L751.7,267.8"/>
<path d="M811.9,234.5 L806.0,234.5 L803.3,233.5 L800.1,230.2 L801.0,226.5 L803.3,223.8 L809.5,219.5 L816.2,215.2 L823.5,212.0 L831.2,208.8 L839.0,206.5 L846.0,205.0 L848.4,204.5"/>
<path d="M832.0,209.5 L836.0,208.0 L840.0,208.5 L842.0,211.0 L838.0,213.0 L834.0,212.5"/>
<path d="M757.5,253.5 L760.0,256.0 L759.5,260.0 L756.0,262.0"/>
</g>
<path d="M734.5,185 L734.5,197" stroke="#fff" stroke-width="2.5"/>
<path d="M161.9,82.9 L165,82 L168,84 L170.5,83 L172.5,86 L174,91.2 L172.5,95 L174,100 L172,103.5 L169.5,106 L168.5,111 L166,115 L162,117.5 L157,118.6 L155,116 L155.5,112 L158,108.5 L161,105 L164,103 L166,99.5 L166.4,96 L164.5,92 L163.5,88.5 L162,86Z" fill="#5a5a5a"/>
<path d="M158.5,110.3 L161,107.8 L164,108.2 L163,111 L160.5,112.6Z" fill="#C82C28"/>
<path d="M167,100 L168.8,100.5 L168.6,103.6 L167,103Z" fill="#e8e8e8"/>
<circle cx="166.4" cy="77.7" r="0.8" fill="#5a5a5a"/>
<path d="M883.4,373.6 L889.0,373.0 L894.0,373.2 L894.5,375.5 L889.0,376.0 L884.0,377.3Z" fill="#fff" stroke="#5a5a5a" stroke-width="0.9" stroke-linejoin="round"/>
<path d="M893.0,379.5 L898.5,382.5 L899.8,388.0 L896.5,392.5 L891.5,396.0 L886.5,398.5 L885.5,395.0 L890.5,392.0 L895.5,388.0 L895.5,384.0Z" fill="#fff" stroke="#5a5a5a" stroke-width="0.9" stroke-linejoin="round"/>
<path d="M668.5,534.0 L673.0,532.5 L678.0,532.0 L680.5,535.5 L678.5,540.5 L674.5,544.5 L670.0,542.0 L667.5,538.0Z" fill="#fff" stroke="#5a5a5a" stroke-width="0.9" stroke-linejoin="round"/>
<path d="M697.5,521.0 L699.5,520.5 L700.0,525.5 L698.0,526.0Z" fill="#fff" stroke="#5a5a5a" stroke-width="0.9" stroke-linejoin="round"/>
<path d="M569.5,549.0 L572.5,548.5 L573.5,552.0 L571.0,553.5Z" fill="#fff" stroke="#5a5a5a" stroke-width="0.9" stroke-linejoin="round"/>
<path d="M801.5,566.5 L804.0,566.0 L806.0,569.0 L804.5,573.5 L802.5,572.0 L803.0,569.5Z" fill="#fff" stroke="#5a5a5a" stroke-width="0.9" stroke-linejoin="round"/>
<path d="M108.8,306.8 L111.5,307.5 L112.7,312.0 L114.3,318.0 L112.3,318.5 L110.5,313.0 L109.5,309.5Z" fill="#fff" stroke="#5a5a5a" stroke-width="0.9" stroke-linejoin="round"/>
<g fill="none" stroke="#5a5a5a" stroke-linejoin="round" stroke-linecap="round">
<path d="M868.0,300.0 L866.0,305.0 L869.0,308.0 L866.0,311.0 L869.0,314.0 L867.0,318.0 L870.0,321.0 L869.0,325.0 L872.0,327.0 L871.0,331.0 L874.0,333.0" stroke-width="1.7"/>
<path d="M858.0,327.0 L861.0,329.0 L864.0,329.5 L867.0,331.5 L870.0,332.0 L873.0,334.5 L876.0,336.5" stroke-width="1.5"/>
<path d="M862.0,335.0 L865.0,337.0 L869.0,338.0 L872.0,341.0 L876.0,342.5 L879.0,345.5" stroke-width="1.5"/>
<path d="M863.0,351.0 L867.0,352.0 L870.0,351.5 L874.0,354.0 L878.0,355.5 L882.0,357.0 L886.0,356.5" stroke-width="1.6"/>
<path d="M876.0,303.0 L878.0,308.0 L877.0,312.0 L880.0,316.0 L879.0,320.0 L882.0,324.0 L881.0,328.0 L884.0,332.0 L883.0,337.0 L886.0,341.0 L885.5,346.0" stroke-width="1.4"/>
<path d="M874.0,370.0 L878.0,372.0 L882.0,371.0 L885.0,374.5 L883.0,378.0 L878.0,377.0 L875.0,380.0" stroke-width="1.6"/>
<path d="M876.0,392.0 L880.0,394.0 L884.0,392.5 L887.0,396.0 L884.0,399.5 L880.0,399.0 L877.0,402.0 L873.0,404.0 L870.0,408.0" stroke-width="1.6"/>
<path d="M887.0,358.0 L891.0,365.5 L896.0,373.5 L900.5,381.0 L901.5,388.0 L899.5,392.5 L896.0,395.5 L891.5,400.5 L887.5,404.2" stroke-width="1.5"/>
<path d="M983.0,154.0 L979.0,156.0 L980.0,159.0 L976.0,159.0 L977.0,163.0 L972.5,163.0 L973.0,167.0 L969.0,166.5 L969.0,170.5 L965.0,170.0 L965.0,174.0 L961.5,173.5 L961.5,177.5 L958.0,177.0 L957.5,181.0 L954.0,181.0 L953.5,185.0 L950.0,185.5 L949.5,189.0 L946.0,190.0 L945.0,194.0 L942.5,196.0" stroke-width="1.9"/>
<path d="M975.0,166.5 L972.0,170.0 L968.0,172.5 L966.0,176.0 L962.0,178.5 L960.0,182.0 L956.5,184.0" stroke-width="1.5"/>
<path d="M939.5,206.0 L941.0,211.0 L943.5,214.5 L941.0,218.0" stroke-width="1.2"/>
<path d="M936.0,243.0 L938.0,246.0 L941.0,243.5 L944.0,244.5 L946.0,241.5" stroke-width="1.6"/>
<path d="M816.9,514.0 L815.6,506.0 L815.6,496.0 L816.2,487.0 L818.2,478.5 L820.3,473.0 L823.3,468.5 L827.0,464.5" stroke-width="3.0"/>
<path d="M827.0,464.5 L832.0,459.5 L836.0,455.5 L841.0,450.5 L846.0,445.5" stroke-width="2.0"/>
<path d="M815.5,512.0 L816.0,520.0 L817.0,527.0 L816.5,533.0 L817.6,536.5 L816.6,537.5 L816.2,535.5" stroke-width="0.9"/>
<path d="M833.5,544.5 L836.0,547.0 L838.5,551.0" stroke-width="2.4"/>
<path d="M798.5,556.0 L800.5,560.0 L798.5,564.0 L800.5,567.5 L800.0,571.0 L803.0,575.0" stroke-width="1.4"/>
<path d="M811.0,586.0 L813.5,589.0 L812.5,592.0 L815.5,594.0 L815.0,597.0" stroke-width="1.7"/>
<path d="M812.5,588.0 L815.0,592.5 L818.5,597.0 L822.5,602.0 L826.5,606.5" stroke-width="1.8"/>
<path d="M838.0,618.0 L842.0,620.5 L847.0,621.0 L851.0,617.5" stroke-width="1.5"/>
<path d="M640.0,554.5 L644.0,556.5 L648.0,556.8 L652.0,555.5 L656.0,552.0 L660.0,551.5 L664.0,553.5 L668.0,553.0 L671.0,556.0 L675.0,558.0 L678.5,556.5 L676.0,551.5 L673.0,547.0" stroke-width="1.8"/>
<path d="M661.0,548.0 L664.0,544.5 L667.0,541.5 L666.0,537.5 L668.5,534.0 L672.0,532.0 L676.0,531.0 L680.0,530.0" stroke-width="1.5"/>
<path d="M618.0,548.5 L622.0,548.5 L626.0,546.5 L629.0,548.0 L632.0,551.0 L636.0,553.5" stroke-width="1.3"/>
<path d="M538.0,576.0 L545.0,571.5 L552.0,567.0 L559.5,562.5 L565.0,557.0 L570.0,553.0" stroke-width="1.3"/>
<path d="M526.5,593.5 L523.5,603.0 L526.0,611.0 L528.5,618.0 L526.5,624.5 L523.5,628.5" stroke-width="1.0"/>
<path d="M524.0,592.0 L530.0,584.0 L537.5,577.0" stroke-width="1.0"/>
<path d="M138.5,112.5 L141.0,113.5 L144.0,115.0 L141.0,116.0 L139.0,117.5" stroke-width="1.7"/>
<path d="M138.0,119.0 L140.5,120.0 L142.5,122.0 L140.0,123.0 L138.0,124.5" stroke-width="1.7"/>
<path d="M136.5,126.5 L139.0,127.5 L140.5,129.5 L138.0,131.0" stroke-width="1.8"/>
<path d="M107.5,306.0 L109.5,304.0 L111.0,306.5 L113.5,305.0 L116.0,307.5 L119.0,307.0 L122.0,309.5 L126.0,310.5" stroke-width="1.3"/>
<path d="M110.0,308.0 L109.5,312.0 L111.5,315.5 L113.7,320.5" stroke-width="1.4"/>
<path d="M98.5,309.0 L100.0,311.5" stroke-width="1.0"/>
<path d="M948.0,233.0 L952.5,231.5 L957.0,232.0 L958.5,228.0 L955.5,225.2 L957.5,224.2 L960.5,228.0 L960.3,235.5" stroke-width="1.3"/>
<path d="M951.5,242.2 L955.0,241.6" stroke-width="1.6"/>
<path d="M957.5,243.2 L960.5,241.6" stroke-width="1.6"/>
<path d="M899.0,268.0 L900.5,271.0 L903.0,268.5" stroke-width="1.4"/>
<path d="M716.0,186.5 L720.0,187.5 L724.0,186.0 L728.0,186.5" stroke-width="1.6"/>
<path d="M731.0,183.5 L735.5,183.0 L738.0,185.0" stroke-width="1.4"/>
<path d="M706.3,211.0 L706.8,214.5 L708.0,212.0" stroke-width="1.3"/>
<path d="M756.0,278.8 L759.5,277.3 L763.0,279.3" stroke-width="1.4"/>
<path d="M624.5,174.5 L626.5,172.0 L628.0,174.5" stroke-width="1.6"/>
<path d="M805.6,637.1 L807.4,636.7 M820.6,636.3 L822.6,635.9" stroke-width="1.3"/>
<path d="M825.3,635.6 C830,634.6 834.5,632.4 838.6,629.8" stroke-width="2.2" stroke-dasharray="5 0.8 3.5 0.6 6 1"/>
<path d="M840.5,628.6 C844.5,626.4 848,624.4 851,621.8 C853.5,619 855.5,615.5 856.5,611.5" stroke-width="1.0"/>
</g>
<g fill="#5a5a5a"><ellipse cx="126" cy="400.5" rx="3.6" ry="1.3" transform="rotate(20 126 400.5)"/><ellipse cx="133.5" cy="402.6" rx="3.5" ry="1.2" transform="rotate(12 133.5 402.6)"/><ellipse cx="132.5" cy="419.3" rx="1.7" ry="1.2"/><ellipse cx="141.8" cy="416.5" rx="0.9" ry="0.8"/><ellipse cx="151.3" cy="421" rx="1.6" ry="2.8" transform="rotate(-30 151.3 421)"/><ellipse cx="148.5" cy="430.3" rx="1.3" ry="3.2" transform="rotate(-20 148.5 430.3)"/></g>
<g clip-path="url(#cA)">
<rect x="140" y="520" width="350" height="260" fill="#9DBFE0"/>
<path d="M230.0,538.0 C231.0,539.3 233.4,542.8 236.2,546.0 C239.1,549.2 243.7,552.8 247.0,557.0 C250.3,561.2 253.7,565.0 256.0,571.0 C258.3,577.0 259.1,585.2 261.0,593.0 C262.9,600.8 265.8,607.6 267.2,618.0 C268.7,628.4 269.7,643.5 269.8,655.5 C269.8,667.5 268.6,681.6 267.8,690.0 C267.0,698.4 266.3,700.6 264.7,705.6 C263.1,710.6 260.5,716.1 258.4,719.7 C256.3,723.4 254.4,725.5 252.2,727.5 C250.0,729.5 248.4,730.2 245.0,731.5 C241.6,732.8 237.5,733.4 232.0,735.0 C226.5,736.6 220.7,738.2 212.0,741.0 C203.3,743.8 185.3,750.2 180.0,752.0 L190,800 L500,800 L500,500 L230,500Z" fill="#BFCBE6"/>
<path d="M294.0,535.0 L293.5,542.2 L288.5,593.0 L286.0,643.0 L286.0,689.2 L286.0,700.0 L286,720 L500,720 L500,500 L294,500Z" fill="#A0A0A0"/>
<path d="M276.0,730.0 L279.0,724.0 L284.0,718.0 L288.0,713.5 L293.0,713.0 L296.0,717.0 L295.0,722.0 L292.0,727.0 L288.0,732.0 L283.0,737.0 L278.0,740.5 L274.5,738.0 L275.0,734.0Z" fill="#A0A0A0"/>
<path d="M190.0,766.5 L194.0,762.5 L200.0,759.5 L204.0,759.5 L203.0,763.5 L197.0,766.5 L192.0,768.5Z" fill="#A0A0A0"/>
<circle cx="385" cy="678" r="48" fill="#E8B367" stroke="#747474" stroke-width="1.2"/>
<path d="M393,660 L395,686 L401,700 L500,760 L500,660Z" fill="#E38A48"/>
<circle cx="198" cy="648" r="41.5" fill="#6EB2E4" stroke="#747474" stroke-width="1.2"/>
<path d="M230.0,538.0 C231.0,539.3 233.4,542.8 236.2,546.0 C239.1,549.2 243.7,552.8 247.0,557.0 C250.3,561.2 253.7,565.0 256.0,571.0 C258.3,577.0 259.1,585.2 261.0,593.0 C262.9,600.8 265.8,607.6 267.2,618.0 C268.7,628.4 269.7,643.5 269.8,655.5 C269.8,667.5 268.6,681.6 267.8,690.0 C267.0,698.4 266.3,700.6 264.7,705.6 C263.1,710.6 260.5,716.1 258.4,719.7 C256.3,723.4 254.4,725.5 252.2,727.5 C250.0,729.5 248.4,730.2 245.0,731.5 C241.6,732.8 237.5,733.4 232.0,735.0 C226.5,736.6 220.7,738.2 212.0,741.0 C203.3,743.8 185.3,750.2 180.0,752.0" fill="none" stroke="#747474" stroke-width="1.2"/>
<path d="M294.0,535.0 L293.5,542.2 L288.5,593.0 L286.0,643.0 L286.0,689.2 L286.0,700.0" fill="none" stroke="#747474" stroke-width="1.2"/>
</g>
<path d="M212.0,566.0 L213.0,562.0 L215.0,559.8 L224.0,555.0 L232.5,551.0 L236.5,546.5 L240.0,542.2 L248.0,538.0 L256.0,535.5 L262.0,531.5 L267.2,529.8 L271.0,531.5 L274.8,534.8 L281.0,537.0 L288.5,538.5 L291.0,541.0 L293.5,542.2 L301.0,541.0 L308.5,541.0 L316.0,543.5 L323.5,544.8 L328.0,543.0 L333.5,543.0 L339.0,545.5 L344.8,547.2 L354.8,593.0 L362.2,635.5 L371.0,679.2 L375.3,678.1 L381.6,675.8 L384.7,675.0 L385.5,679.7 L389.4,682.0 L393.0,685.0 L397.2,687.5 L401.9,690.6 L404.0,687.0 L406.6,683.6 L405.8,679.7 L408.0,677.5 L411.2,676.6 L415.9,678.9 L420.6,683.6 L425.0,686.5 L430.0,689.1 L433.1,693.0 L438.0,699.0 L442.5,704.7 L448.8,710.2 L453.0,711.5 L458.1,712.5 L463.0,713.0 L467.5,714.1 L469.8,720.3 L471.4,726.6 L469.1,734.4 L464.4,732.8 L462.0,737.0 L459.7,739.8 L453.4,740.6 L449.0,738.0 L445.6,735.2 L442.0,731.0 L439.4,728.1 L433.1,726.6 L431.0,723.0 L430.0,720.3 L426.0,717.5 L422.2,715.6 L418.5,712.0 L415.9,709.4 L411.2,704.7 L405.0,698.4 L398.8,695.3 L392.5,691.4 L383.1,688.3 L380.0,685.2 L369.1,685.2 L358.1,684.4 L350.3,686.7 L347.2,689.0 L344.1,683.6 L337.8,681.2 L336.0,683.0 L333.0,688.0 L329.0,690.0 L325.0,687.0 L321.0,683.5 L318.5,680.0 L317.5,682.0 L320.0,690.0 L314.0,696.0 L307.0,700.0 L300.0,703.5 L296.0,702.0 L294.0,696.0 L294.5,689.0 L296.5,683.5 L299.5,679.5 L303.0,676.5 L307.5,674.5 L308.5,673.0 L303.0,672.8 L298.0,675.0 L293.5,678.0 L290.0,683.0 L286.0,689.0 L283.0,697.0 L278.5,705.5 L274.0,715.0 L268.5,725.5 L262.0,732.0 L256.0,738.0 L249.0,743.5 L243.0,748.0 L235.0,751.0 L227.5,752.5 L220.0,755.5 L212.5,757.5 L203.0,760.5 L196.0,763.5 L190.0,766.5 L188.5,764.0 L193.0,760.0 L199.0,756.0 L205.0,752.0 L213.0,749.0 L220.0,747.5 L227.5,745.5 L233.0,741.0 L239.0,737.5 L245.0,733.0 L251.0,727.5 L256.0,723.0 L258.0,717.0 L258.0,712.0 L256.0,709.2 L253.0,709.0 L250.0,706.8 L247.0,710.0 L243.8,713.0 L242.0,708.5 L240.0,705.5 L235.0,708.0 L230.0,709.2 L225.0,707.0 L220.0,708.0 L221.5,703.0 L222.5,698.0 L222.0,693.0 L221.2,688.0 L214.0,690.0 L207.5,689.2 L204.0,684.0 L201.2,678.0 L200.5,671.0 L200.0,665.0 L201.0,659.5 L202.5,654.2 L207.0,648.0 L212.5,641.8 L219.0,639.0 L225.0,638.0 L230.0,640.0 L235.0,638.0 L238.0,634.0 L238.5,628.0 L236.2,620.5 L233.0,619.0 L229.0,621.5 L222.5,623.0 L214.0,622.0 L207.5,620.5 L205.5,615.0 L205.0,610.5 L200.0,607.0 L196.2,603.0 L200.0,600.5 L205.0,598.0 L214.0,596.5 L222.5,596.0 L223.5,599.0 L225.0,603.0 L231.0,603.5 L238.0,602.0 L238.5,597.0 L236.0,593.0 L231.0,590.0 L226.2,588.5 L223.0,582.0 L220.0,576.0 L215.5,571.0Z" fill="none" stroke="#5a5a5a" stroke-width="1.25" stroke-linejoin="round"/>
<path d="M166.5,624.0 L169.5,622.5 L172.0,627.0 L176.0,626.0 L180.0,630.0 L185.5,633.0 L186.0,636.0 L182.0,638.0 L178.5,634.0 L174.0,632.5 L170.0,630.0 L167.0,627.5Z" fill="none" stroke="#5a5a5a" stroke-width="1.25" stroke-linejoin="round"/>
<path d="M185.0,679.5 L189.0,678.0 L194.0,678.5 L197.5,681.0 L197.0,685.0 L193.0,688.0 L188.5,686.0 L186.0,683.0Z" fill="none" stroke="#5a5a5a" stroke-width="1.25" stroke-linejoin="round"/>
<path d="M276.0,730.0 L279.0,724.0 L284.0,718.0 L288.0,713.5 L293.0,713.0 L296.0,717.0 L295.0,722.0 L292.0,727.0 L288.0,732.0 L283.0,737.0 L278.0,740.5 L274.5,738.0 L275.0,734.0Z" fill="none" stroke="#5a5a5a" stroke-width="1.25" stroke-linejoin="round"/>
<path d="M190.0,766.5 L194.0,762.5 L200.0,759.5 L204.0,759.5 L203.0,763.5 L197.0,766.5 L192.0,768.5Z" fill="none" stroke="#5a5a5a" stroke-width="1.25" stroke-linejoin="round"/>
<g fill="#5a5a5a">
<ellipse cx="150" cy="666.5" rx="1.47" ry="2.80"/>
<ellipse cx="154.5" cy="716.8" rx="1.56" ry="1.04"/>
<ellipse cx="157.5" cy="726.8" rx="1.38" ry="0.96"/>
<ellipse cx="4" cy="724" rx="3.22" ry="2.40"/>
<ellipse cx="7.5" cy="732" rx="2.30" ry="1.44"/>
<ellipse cx="11" cy="729" rx="1.10" ry="0.80"/>
<ellipse cx="24" cy="742.5" rx="0.92" ry="0.80"/>
<ellipse cx="33.5" cy="753" rx="2.30" ry="1.44"/>
<ellipse cx="40.5" cy="758" rx="1.66" ry="0.96"/>
<ellipse cx="44.5" cy="765" rx="2.30" ry="2.56"/>
<ellipse cx="51.3" cy="761.3" rx="1.66" ry="1.20"/>
<ellipse cx="60" cy="774" rx="2.30" ry="1.28"/>
<ellipse cx="64" cy="770" rx="1.10" ry="0.80"/>
<ellipse cx="71" cy="772" rx="2.76" ry="1.60"/>
<ellipse cx="78" cy="774.5" rx="3.22" ry="1.60"/>
<ellipse cx="86.5" cy="775.5" rx="4.60" ry="1.60"/>
<ellipse cx="96" cy="776" rx="4.14" ry="1.60"/>
<ellipse cx="104.5" cy="777.5" rx="3.68" ry="1.76"/>
<ellipse cx="112" cy="780" rx="2.30" ry="1.20"/>
<ellipse cx="119.5" cy="779.3" rx="1.84" ry="1.12"/>
<ellipse cx="130.5" cy="779.5" rx="1.66" ry="0.96"/>
<ellipse cx="135.5" cy="779" rx="1.47" ry="0.96"/>
<ellipse cx="142" cy="778" rx="2.76" ry="1.28"/>
<ellipse cx="151" cy="778.5" rx="2.30" ry="1.12"/>
<ellipse cx="158.5" cy="774" rx="4.60" ry="2.08"/>
<ellipse cx="167" cy="771.5" rx="4.14" ry="1.92"/>
<ellipse cx="175.5" cy="769.5" rx="4.60" ry="2.00"/>
<ellipse cx="183" cy="767.5" rx="3.68" ry="1.76"/>
<ellipse cx="207.5" cy="767.5" rx="2.30" ry="1.20"/>
<ellipse cx="221.5" cy="752" rx="1.10" ry="0.80"/>
<ellipse cx="259" cy="745.5" rx="0.92" ry="1.28"/>
<ellipse cx="266.5" cy="751.5" rx="1.10" ry="1.12"/>
<ellipse cx="336" cy="696.5" rx="0.92" ry="0.80"/>
<ellipse cx="446.5" cy="741" rx="0.92" ry="0.80"/>
<ellipse cx="212" cy="758.5" rx="3.22" ry="1.60"/>
<ellipse cx="219" cy="756.5" rx="3.22" ry="1.60"/>
<ellipse cx="226" cy="753.5" rx="3.22" ry="1.60"/>
<ellipse cx="233" cy="762" rx="2.76" ry="1.60"/>
<ellipse cx="230" cy="757" rx="1.84" ry="1.20"/>
</g>
<path d="M317,676 L321,673 L324,677 L328,674.5 L331,678 L335,676 L338,680 L336,685 L332,689 L329,686 L326,689.5 L322,685.5 L319,682Z" fill="#5a5a5a" opacity="0.9"/>
<path d="M326,679 L329.5,678 L330,682 L327,683Z" fill="#fff"/>
<path d="M275,734 L279,726 L284.5,719.5 L289,715 L293.5,715.5 L294,721 L290,728 L284.5,734 L279,739 L275.5,738Z" fill="none" stroke="#5a5a5a" stroke-width="2.2"/>
<path d="M411.25,704.7 L415,704 L418,707.5 L421,706.5 L423,710.5 L427,710 L428,714 L432,713 L433.5,717.5 L437,716.5 L439,721 L443,720.5 L444,725 L448,724 L450,729 L454,728.5 L455.5,733 L459.5,732 L461,736.5 L459.7,739.8 L453.4,740.6 L449,738 L445.6,735.2 L442,731 L439.4,728.1 L433.1,726.6 L431,723 L430,720.3 L426,717.5 L422.2,715.6 L418.5,712 L415.9,709.4Z" fill="#5a5a5a"/>
<g fill="none" stroke="#5a5a5a" stroke-linecap="round" stroke-linejoin="round">
<path d="M413,679 L414.5,684 L417,689 L419,692.5" stroke-width="1.8"/>
<path d="M405.8,679.7 L408,677.5 L411.25,676.6 L415.9,678.9 L420.6,683.6 L425,686.5 L430,689.1" stroke-width="1.6"/>
<path d="M397.2,687.5 L401.9,690.6 L404,687" stroke-width="1.5"/>
<path d="M440,707 L443,712 L447,714.5 L449,719 L453,720 L455,725 L459,725.5 L461,730 L465,730" stroke-width="1.5"/>
<path d="M448.75,710.2 L451,715 L455,716.5 L457,720.5 L461,721.5 L463.5,726 L467,726.5" stroke-width="1.3"/>
<path d="M436,701 L437.5,706 L441,709 L442.5,714 L446,716.5" stroke-width="1.4"/>
<path d="M458.1,712.5 L463,713 L467.5,714.1 L469.8,720.3 L471.4,726.6 L469.1,734.4 L464.4,732.8 L462,737 L459.7,739.8" stroke-width="1.7"/>
<path d="M380,685.2 L383.1,688.3 L392.5,691.4 L398.75,695.3 L405,698.4 L411.25,704.7" stroke-width="1.4"/>
<path d="M337.8,681.25 L344.1,683.6 L347.2,689 L350.3,686.7" stroke-width="1.8"/>
</g>
<path d="M436,722 L438,720 L440,723.5 L438.5,726Z M446.5,728.5 L449,727 L451,731 L448,732.5Z M441,716 L443.5,715.5 L444.5,719 L442,719.5Z" fill="#E38A48"/>
<path d="M432.5,710 L434,713.5 L433,719 L434.5,723" stroke="#fff" stroke-width="0.9" fill="none"/>
<text x="192.8" y="45" font-size="46.7" fill="#000">6-10 Day Temperature Outlook</text>
<text x="361.3" y="81.6" font-size="20.4" font-weight="bold" fill="#000">Valid:</text>
<text x="427.3" y="81.6" font-size="20.4" word-spacing="1" fill="#000">January 11 - 15, 2023</text>
<text x="360.2" y="105" font-size="20.4" font-weight="bold" fill="#000">Issued:</text>
<text x="444.5" y="105" font-size="20.4" word-spacing="0.9" fill="#000">January 5, 2023</text>
<text x="210.0" y="136.4" font-size="23" font-weight="bold" text-anchor="middle" stroke="#fff" stroke-width="4.5" stroke-linejoin="round" paint-order="stroke" fill="#000">Above</text>
<text x="567.2" y="163.4" font-size="23" font-weight="bold" text-anchor="middle" stroke="#fff" stroke-width="4.5" stroke-linejoin="round" paint-order="stroke" fill="#000">Above</text>
<text x="448.25" y="479.75" font-size="23" font-weight="bold" text-anchor="middle" stroke="#fff" stroke-width="4.5" stroke-linejoin="round" paint-order="stroke" fill="#000">Above</text>
<text x="172.6" y="360.9" font-size="22.9" font-weight="bold" text-anchor="middle" stroke="#fff" stroke-width="4.5" stroke-linejoin="round" paint-order="stroke" fill="#000">Near</text>
<text x="172.6" y="387.7" font-size="22.9" font-weight="bold" text-anchor="middle" stroke="#fff" stroke-width="4.5" stroke-linejoin="round" paint-order="stroke" fill="#000">Normal</text>
<text x="767.3" y="479.0" font-size="22.9" font-weight="bold" text-anchor="middle" stroke="#fff" stroke-width="4.5" stroke-linejoin="round" paint-order="stroke" fill="#000">Near</text>
<text x="767.2" y="506.2" font-size="22.9" font-weight="bold" text-anchor="middle" stroke="#fff" stroke-width="4.5" stroke-linejoin="round" paint-order="stroke" fill="#000">Normal</text>
<text x="323.5" y="613" font-size="17.5" font-weight="bold" text-anchor="middle" stroke="#fff" stroke-width="4" stroke-linejoin="round" paint-order="stroke" fill="#000">Near</text>
<text x="323.5" y="633.5" font-size="17.5" font-weight="bold" text-anchor="middle" stroke="#fff" stroke-width="4" stroke-linejoin="round" paint-order="stroke" fill="#000">Normal</text>
<text x="218.4" y="670.6" font-size="17.5" font-weight="bold" text-anchor="middle" stroke="#fff" stroke-width="4" stroke-linejoin="round" paint-order="stroke" fill="#000">Below</text>
<text x="433.6" y="703" font-size="17.6" font-weight="bold" text-anchor="middle" stroke="#fff" stroke-width="4" stroke-linejoin="round" paint-order="stroke" fill="#000">Above</text>
<text x="565.6" y="608.2" font-size="16.6" font-weight="bold" textLength="233.6" lengthAdjust="spacingAndGlyphs" fill="#000">Probability (Percent Chance)</text>
<text x="558.8" y="629.6" font-size="12.7" font-weight="bold" textLength="87.2" lengthAdjust="spacingAndGlyphs" fill="#000">Above Normal</text>
<text x="721.2" y="628.1" font-size="12.7" font-weight="bold" textLength="85.3" lengthAdjust="spacingAndGlyphs" fill="#000">Below Normal</text>
<text x="682.3" y="687" font-size="12.8" font-weight="bold" text-anchor="middle" fill="#000">Near</text>
<text x="682.3" y="702.4" font-size="12.8" font-weight="bold" text-anchor="middle" fill="#000">Normal</text>
<rect x="667.5" y="716.5" width="29.5" height="12.8" fill="#A0A0A0" stroke="#7a7a7a" stroke-width="1.2"/>
<rect x="558.7" y="644.50" width="29.5" height="12.8" fill="#E8B367" stroke="#7a7a7a" stroke-width="1.2"/>
<text x="595.3" y="655.30" font-size="12.3" fill="#333">33-40%</text>
<rect x="777.7" y="643.50" width="29.5" height="12.8" fill="#BFCBE6" stroke="#7a7a7a" stroke-width="1.2"/>
<text x="769.5" y="654.20" font-size="12.1" text-anchor="end" fill="#333">33-40%</text>
<rect x="558.7" y="665.20" width="29.5" height="12.8" fill="#E38A48" stroke="#7a7a7a" stroke-width="1.2"/>
<text x="595.3" y="676.00" font-size="12.3" fill="#333">40-50%</text>
<rect x="777.7" y="664.38" width="29.5" height="12.8" fill="#9DBFE0" stroke="#7a7a7a" stroke-width="1.2"/>
<text x="769.5" y="675.08" font-size="12.1" text-anchor="end" fill="#333">40-50%</text>
<rect x="558.7" y="685.90" width="29.5" height="12.8" fill="#DC562F" stroke="#7a7a7a" stroke-width="1.2"/>
<text x="595.3" y="696.70" font-size="12.3" fill="#333">50-60%</text>
<rect x="777.7" y="685.26" width="29.5" height="12.8" fill="#6EB2E4" stroke="#7a7a7a" stroke-width="1.2"/>
<text x="769.5" y="695.96" font-size="12.1" text-anchor="end" fill="#333">50-60%</text>
<rect x="558.7" y="706.60" width="29.5" height="12.8" fill="#C82C28" stroke="#7a7a7a" stroke-width="1.2"/>
<text x="595.3" y="717.40" font-size="12.3" fill="#333">60-70%</text>
<rect x="777.7" y="706.14" width="29.5" height="12.8" fill="#2C97D8" stroke="#7a7a7a" stroke-width="1.2"/>
<text x="769.5" y="716.84" font-size="12.1" text-anchor="end" fill="#333">60-70%</text>
<rect x="558.7" y="727.30" width="29.5" height="12.8" fill="#CD2B46" stroke="#7a7a7a" stroke-width="1.2"/>
<text x="595.3" y="738.10" font-size="12.3" fill="#333">70-80%</text>
<rect x="777.7" y="727.02" width="29.5" height="12.8" fill="#0560A8" stroke="#7a7a7a" stroke-width="1.2"/>
<text x="769.5" y="737.72" font-size="12.1" text-anchor="end" fill="#333">70-80%</text>
<rect x="558.7" y="748.00" width="29.5" height="12.8" fill="#8A2F38" stroke="#7a7a7a" stroke-width="1.2"/>
<text x="595.3" y="758.80" font-size="12.3" fill="#333">80-90%</text>
<rect x="777.7" y="747.90" width="29.5" height="12.8" fill="#2D2B78" stroke="#7a7a7a" stroke-width="1.2"/>
<text x="769.5" y="758.60" font-size="12.1" text-anchor="end" fill="#333">80-90%</text>
<rect x="558.7" y="768.70" width="29.5" height="12.8" fill="#5C2028" stroke="#7a7a7a" stroke-width="1.2"/>
<text x="595.3" y="779.50" font-size="12.3" fill="#333">90-100%</text>
<rect x="777.7" y="768.78" width="29.5" height="12.8" fill="#1E1A52" stroke="#7a7a7a" stroke-width="1.2"/>
<text x="769.5" y="779.48" font-size="12.1" text-anchor="end" fill="#333">90-100%</text>
<path d="M554,642.9 C544.97,642.9 542.82,645.80 542.82,650.14 L542.82,653.76 C542.82,658.47 535.73,661.0 532.5,661.0 C535.73,661.0 542.82,663.53 542.82,668.24 L542.82,671.86 C542.82,676.20 544.97,679.1 554,679.1" fill="none" stroke="#333" stroke-width="0.9"/>
<path d="M554,686.5 C544.80,686.5 542.61,694.18 542.61,705.70 L542.61,715.30 C542.61,727.78 535.38,734.5 532.1,734.5 C535.38,734.5 542.61,741.22 542.61,753.70 L542.61,763.30 C542.61,774.82 544.80,782.5 554,782.5" fill="none" stroke="#333" stroke-width="1.1"/>
<path d="M813.2,643.4 C820.63,643.4 822.40,646.29 822.40,650.62 L822.40,654.23 C822.40,658.92 828.25,661.45 830.9,661.45 C828.25,661.45 822.40,663.98 822.40,668.67 L822.40,672.28 C822.40,676.61 820.63,679.5 813.2,679.5" fill="none" stroke="#333" stroke-width="0.9"/>
<path d="M813.2,686 C820.93,686 822.77,692.62 822.77,702.56 L822.77,717.69 C822.77,728.45 828.84,734.25 831.6,734.25 C828.84,734.25 822.77,740.05 822.77,750.81 L822.77,765.94 C822.77,775.88 820.93,782.5 813.2,782.5" fill="none" stroke="#333" stroke-width="1.1"/>
<text x="502.6" y="656.7" font-size="15.6" text-anchor="middle" fill="#111">Leaning</text>
<text x="502.6" y="673.8" font-size="15.6" text-anchor="middle" fill="#111">Above</text>
<text x="502.6" y="729.1" font-size="15.6" text-anchor="middle" fill="#111">Likely</text>
<text x="502.6" y="746.9" font-size="15.6" text-anchor="middle" fill="#111">Above</text>
<text x="865.8" y="656.7" font-size="15.6" text-anchor="middle" fill="#111">Leaning</text>
<text x="865.8" y="673.8" font-size="15.6" text-anchor="middle" fill="#111">Below</text>
<text x="865.8" y="729.1" font-size="15.6" text-anchor="middle" fill="#111">Likely</text>
<text x="865.8" y="746.9" font-size="15.6" text-anchor="middle" fill="#111">Below</text>
<g transform="translate(97.8 32.4)">
<circle r="29.0" fill="#1e8ed2"/>
<circle r="28.5" fill="none" stroke="#5b6f86" stroke-width="0.9"/>
<circle r="22" fill="#fff" stroke="#5b6f86" stroke-width="0.8"/>
<path id="ctop" d="M-24.1,0 A24.1,24.1 0 0 1 24.1,0" fill="none"/>
<path id="cbot" d="M-27.1,0 A27.1,27.1 0 0 0 27.1,0" fill="none"/>
<text font-size="4.4" fill="#e3f1fa" stroke="#e3f1fa" stroke-width="0.15" letter-spacing="0.15"><textPath href="#ctop" startOffset="50%" text-anchor="middle">DEPARTMENT OF COMMERCE</textPath></text>
<text font-size="4.4" fill="#e3f1fa" stroke="#e3f1fa" stroke-width="0.15" letter-spacing="0.15"><textPath href="#cbot" startOffset="50%" text-anchor="middle">UNITED STATES OF AMERICA</textPath></text>
<circle cx="-25.5" cy="0.3" r="0.6" fill="#eaf5fc"/><circle cx="25.5" cy="0.3" r="0.6" fill="#eaf5fc"/>
<path d="M-11.1,-3.3 L11.5,-3.3 L11.5,14.5 C10.5,16.8 4,17.6 0.2,20.3 C-3.6,17.6 -10.1,16.8 -11.1,14.5Z" fill="#dba912" stroke="#4a4130" stroke-width="0.6"/>
<path d="M-11.1,-3.3 L11.5,-3.3 L11.5,6.6 L-11.1,6.6Z" fill="#1b8fd6" stroke="#2b3b50" stroke-width="0.6"/>
<path d="M-11.1,5.2 L11.5,5.2 L11.5,7.2 L-11.1,7.2Z" fill="#1d2430"/>
<path d="M-12.8,-4.6 L13.2,-4.6 L12.6,-3.1 L-12.2,-3.1Z" fill="#1f2c44"/>
<path d="M-8.5,1.8 L-3,-0.8 L0.5,-2.2 L4.5,-1.6 L7.6,1.6 L6,4.4 L-5,4.2Z" fill="#c9cfd4" stroke="#2a2a2a" stroke-width="0.45"/>
<path d="M-8,2.6 L7.2,2.8 M-6.5,1 L6.6,0.9 M0.4,-4 L0.4,4" stroke="#2a2a2a" stroke-width="0.45" fill="none"/>
<path d="M-0.7,7.2 L1.1,7.2 L1.6,19 L-1.2,19Z" fill="#2e2a24"/>
<path d="M0.2,-7.6 C-1.8,-9.8 -5,-13 -7.5,-18.7 C-4.8,-17.6 -2.8,-15.6 -1.6,-13.4 C-1.2,-15.4 -0.6,-16.4 0.3,-16.6 C1.2,-16.4 1.8,-15.4 2.2,-13.4 C3.4,-15.6 5.6,-17.4 8.4,-18.3 C5.8,-13 2.4,-9.8 0.2,-7.6Z" fill="#3a2a1c"/>
<ellipse cx="0.3" cy="-14.2" rx="1.5" ry="1.8" fill="#d9d3c8"/>
<path d="M-1.2,-12.4 L1.8,-12.4 L1.3,-8.2 L-0.7,-8.2Z" fill="#b8902c"/>
<path d="M-4.5,-6.3 L5.3,-6.3" stroke="#2e2a24" stroke-width="1.3"/>
<path d="M-1,-7.6 L1.4,-7.6 L1.4,-4.6 L-1,-4.6Z" fill="#3a3226"/>
</g>
<g transform="translate(926.4 32.6)">
<clipPath id="nc"><circle r="29.4"/></clipPath>
<g clip-path="url(#nc)">
<circle r="30.4" fill="#0a87d0"/>
<path d="M-32,-9.5 L-28.7,-7.9 C-26,-6.8 -22,-3.6 -18.2,-0.2 C-15.5,2 -13.5,3 -11.7,3.8 C-9,5 -7,6 -5,6.8 L-2.8,7.9 C-5,9.3 -7.5,10.6 -10,11.9 C-7.5,12.1 -5,12 -3,11.6 C-0.5,10.6 1.5,9.4 3.5,8.3 C5.5,7.6 8,7.3 12.6,6.4 C10.8,5.7 9.2,5.4 7.6,5.2 C9.8,3.6 11.5,1.8 13,-0.2 C14.6,-2.6 16.3,-4.8 18.2,-6.7 C20,-8.5 22,-10.2 23.9,-11.5 C25.2,-12.6 26.2,-13.6 27.1,-14.6 L32,-18 L32,-40 L-32,-40Z" fill="#fff"/>
<path d="M-25,-18.2 C-22,-16 -20,-14.8 -18.2,-13.2 C-16,-11 -14.8,-8.2 -13.3,-5.1 C-11.8,-2.6 -10,-0.4 -7.7,1.4 C-5.4,3.3 -2.6,4.8 0.4,5.05 C3,4.9 5,4.2 6.9,3 C9,1.6 10.5,0 11.75,-1.8 C13,-3.7 14,-5.6 15,-7.5 C16.2,-9.6 17.5,-11.4 19,-13.2 C20.3,-14.6 22,-16 24.3,-18.2 L24.3,-40 L-25,-40Z" fill="#0b2a8a"/>
</g>
<text x="-12.1" y="-10.3" font-size="10" textLength="24" lengthAdjust="spacingAndGlyphs" fill="#fff" stroke="#fff" stroke-width="0.25">NOAA</text>
</g>
</svg></body></html>
